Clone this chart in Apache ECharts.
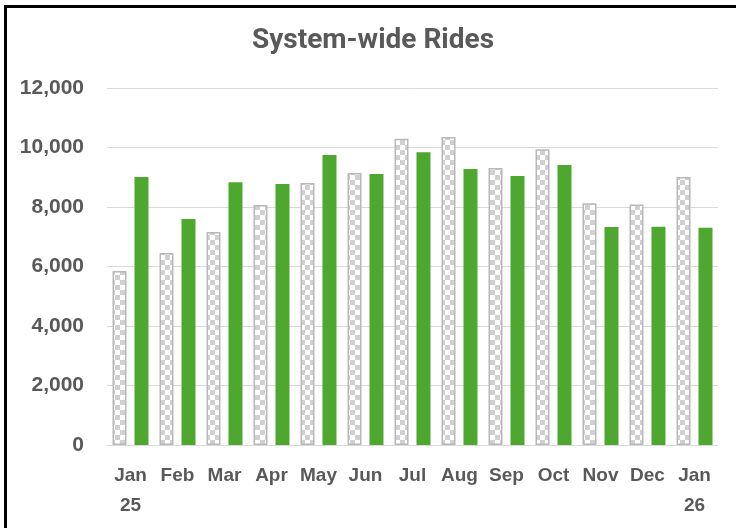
<!DOCTYPE html>
<html>
<head>
<meta charset="utf-8">
<script src="https://cdn.jsdelivr.net/npm/echarts@6/dist/echarts.min.js"></script>
<style>
  html, body { margin: 0; padding: 0; background: #fff; overflow: hidden; }
  #frame {
    position: absolute; left: 4px; top: 5px; width: 800px; height: 600px;
    border-left: 3px solid #000; border-top: 3px solid #000;
  }
  #chart { position: absolute; left: 0; top: 0; width: 736px; height: 528px; }
</style>
</head>
<body>
<div id="frame"></div>
<div id="chart"></div>
<script>
const months = ["Jan\n25", "Feb", "Mar", "Apr", "May", "Jun", "Jul", "Aug", "Sep", "Oct", "Nov", "Dec", "Jan\n26"];
const priorYear = [5850, 6450, 7160, 8070, 8810, 9140, 10290, 10350, 9310, 9940, 8130, 8080, 9010];
const currentYear = [9010, 7600, 8830, 8770, 9750, 9110, 9840, 9280, 9040, 9410, 7330, 7340, 7300];

const labelColor = "#595959";

// checkerboard fill for the prior-year bars
function checkerPattern() {
  const c = document.createElement("canvas");
  c.width = 10;
  c.height = 10;
  const ctx = c.getContext("2d");
  ctx.fillStyle = "#ffffff";
  ctx.fillRect(0, 0, 10, 10);
  ctx.fillStyle = "#d0d0d0";
  ctx.fillRect(0, 0, 5, 5);
  ctx.fillRect(5, 5, 5, 5);
  return c;
}

const chart = echarts.init(document.getElementById("chart"));

chart.setOption({
  animation: false,
  title: {
    text: "System-wide Rides",
    left: 247,
    top: 22,
    textStyle: {
      color: labelColor,
      fontFamily: "Roboto, 'Liberation Sans', sans-serif",
      fontWeight: "bold",
      fontSize: 28,
    },
  },
  grid: { left: 107, right: 18, top: 88, bottom: 83 },
  xAxis: {
    type: "category",
    data: months,
    axisLine: { lineStyle: { color: "#d9d9d9", width: 1 } },
    axisTick: { show: false },
    axisLabel: {
      color: labelColor,
      fontFamily: "'Liberation Sans', Arial, sans-serif",
      fontWeight: "bold",
      fontSize: 19,
      lineHeight: 30,
      margin: 16,
      interval: 0,
    },
  },
  yAxis: {
    type: "value",
    min: 0,
    max: 12000,
    interval: 2000,
    axisLine: { show: false },
    axisTick: { show: false },
    splitLine: { lineStyle: { color: "#d9d9d9", width: 1 } },
    axisLabel: {
      color: labelColor,
      fontFamily: "'Liberation Sans', Arial, sans-serif",
      fontWeight: "bold",
      fontSize: 21,
      margin: 23,
      formatter: (v) => v.toLocaleString("en-US"),
    },
  },
  series: [
    {
      name: "Prior year",
      type: "bar",
      data: priorYear,
      barWidth: 14,
      barGap: "57%",
      itemStyle: {
        color: { image: checkerPattern(), repeat: "repeat" },
        borderColor: "#b8b8b8",
        borderWidth: 1.5,
      },
    },
    {
      name: "Current year",
      type: "bar",
      data: currentYear,
      barWidth: 14,
      itemStyle: { color: "#4ea72e" },
    },
  ],
});
</script>
</body>
</html>
